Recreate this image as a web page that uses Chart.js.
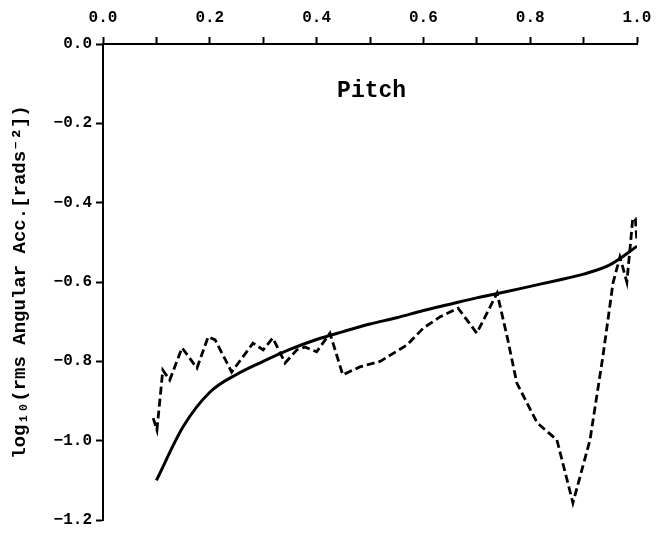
<!DOCTYPE html>
<html>
<head>
<meta charset="utf-8">
<script src="https://cdn.jsdelivr.net/npm/chart.js@4/dist/chart.umd.min.js"></script>
<style>
  html, body { margin: 0; padding: 0; background: #fff; }
  canvas { display: block; }
</style>
</head>
<body>
<canvas id="c" width="672" height="542"></canvas>
<script>
// Smooth fitted curve (solid)
const xFit = [0.10, 0.15, 0.20, 0.25, 0.30, 0.35, 0.40, 0.45, 0.50, 0.55, 0.60, 0.65, 0.70, 0.75, 0.80, 0.85, 0.90, 0.95, 1.00];
const yFit = [-1.10, -0.965, -0.878, -0.833, -0.80, -0.77, -0.745, -0.725, -0.706, -0.69, -0.672, -0.656, -0.64, -0.626, -0.611, -0.596, -0.58, -0.556, -0.51];

// Measured values (dashed)
const xMeas = [0.094, 0.101, 0.112, 0.125, 0.148, 0.176, 0.197, 0.21, 0.241, 0.281, 0.30, 0.318, 0.341, 0.363, 0.378, 0.40, 0.425, 0.449, 0.481, 0.519, 0.569, 0.60, 0.631, 0.665, 0.70, 0.738, 0.757, 0.775, 0.813, 0.85, 0.88, 0.912, 0.936, 0.955, 0.968, 0.981, 0.988, 0.992, 0.997, 1.0];
const yMeas = [-0.943, -0.973, -0.822, -0.847, -0.766, -0.817, -0.738, -0.746, -0.827, -0.754, -0.771, -0.741, -0.804, -0.771, -0.764, -0.776, -0.729, -0.834, -0.814, -0.80, -0.759, -0.716, -0.688, -0.666, -0.729, -0.628, -0.739, -0.855, -0.955, -0.998, -1.157, -0.998, -0.789, -0.603, -0.537, -0.60, -0.50, -0.44, -0.44, -0.50];

const panelTitle = 'Pitch';
const yTitle = 'log\u2081\u2080(rms Angular Acc.[rads\u207B\u00B2])';

const FONT = '"Liberation Mono", "DejaVu Sans Mono", monospace';

const toPts = (xs, ys) => xs.map((x, i) => ({ x: x, y: ys[i] }));

const fmt = v => {
  const s = Math.abs(v).toFixed(1);
  return (v < -1e-9 ? '\u2212' : '') + s;
};

const panelTitlePlugin = {
  id: 'panelTitle',
  afterDraw(chart) {
    const { ctx, chartArea } = chart;
    const xs = chart.scales.x;
    ctx.save();
    ctx.fillStyle = '#000';
    ctx.font = 'bold 23px ' + FONT;
    ctx.textAlign = 'center';
    ctx.textBaseline = 'middle';
    ctx.fillText(panelTitle, xs.getPixelForValue(0.503), chartArea.top + 47);
    ctx.restore();
  }
};

new Chart(document.getElementById('c'), {
  type: 'line',
  data: {
    datasets: [
      {
        data: toPts(xMeas, yMeas),
        borderColor: '#000',
        borderWidth: 2.8,
        borderDash: [8, 4],
        pointRadius: 0,
        tension: 0,
        fill: false
      },
      {
        data: toPts(xFit, yFit),
        borderColor: '#000',
        borderWidth: 3,
        pointRadius: 0,
        cubicInterpolationMode: 'monotone',
        fill: false
      }
    ]
  },
  options: {
    responsive: false,
    animation: false,
    events: [],
    layout: { padding: { left: 0, top: 0, right: 35, bottom: 22 } },
    plugins: {
      legend: { display: false },
      tooltip: { enabled: false }
    },
    scales: {
      x: {
        type: 'linear',
        position: 'top',
        min: 0,
        max: 1,
        afterFit(scale) { scale.height = 44; },
        border: { display: true, color: '#000', width: 2 },
        grid: { drawOnChartArea: false, drawTicks: true, tickLength: 7, tickWidth: 2, color: '#000' },
        ticks: {
          stepSize: 0.1,
          padding: 9,
          color: '#000',
          maxRotation: 0,
          autoSkip: false,
          font: { family: FONT, size: 16, weight: 'bold' },
          callback: v => (Math.round(v * 10) % 2 === 0 ? fmt(v) : '')
        }
      },
      y: {
        type: 'linear',
        position: 'left',
        min: -1.2,
        max: 0,
        afterFit(scale) { scale.width = 103; },
        border: { display: true, color: '#000', width: 2 },
        grid: { drawOnChartArea: false, drawTicks: true, tickLength: 7, tickWidth: 2, color: '#000' },
        ticks: {
          stepSize: 0.2,
          padding: 4,
          color: '#000',
          autoSkip: false,
          font: { family: FONT, size: 16, weight: 'bold' },
          callback: v => fmt(v)
        },
        title: {
          display: true,
          text: yTitle,
          color: '#000',
          padding: { top: 9, bottom: 0 },
          font: { family: FONT, size: 19, weight: 'bold' }
        }
      }
    }
  },
  plugins: [panelTitlePlugin]
});
</script>
</body>
</html>
